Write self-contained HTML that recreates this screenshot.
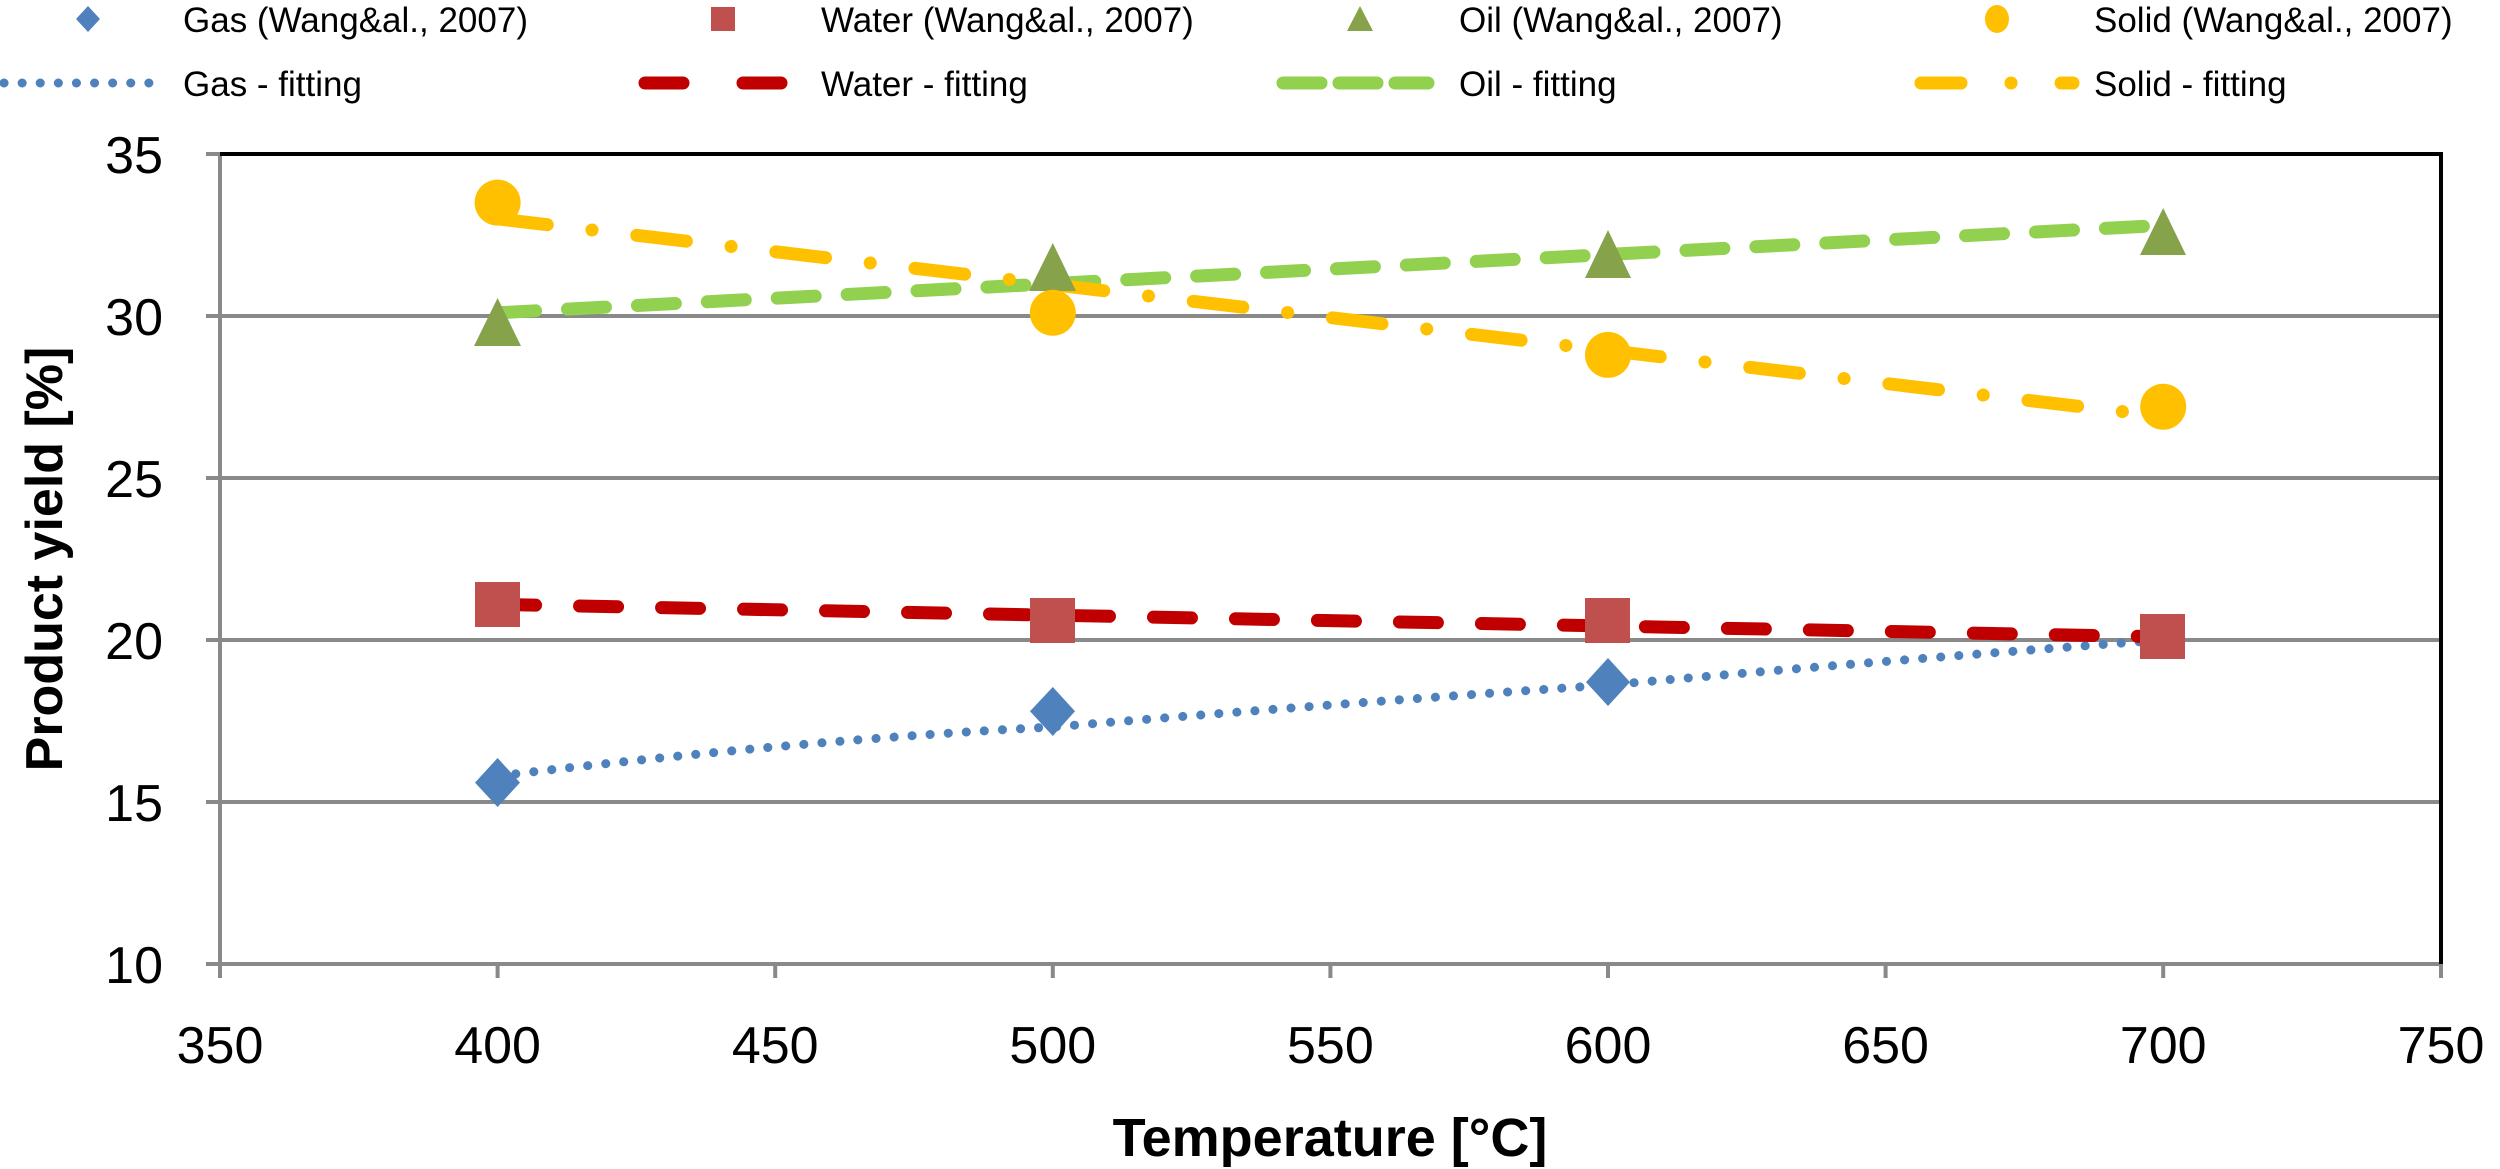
<!DOCTYPE html>
<html><head><meta charset="utf-8"><style>
html,body{margin:0;padding:0;background:#fff;}
svg{display:block;font-family:"Liberation Sans",sans-serif;}
</style></head><body>
<svg width="2500" height="1169" viewBox="0 0 2500 1169" xmlns="http://www.w3.org/2000/svg">
<g stroke="#898989" stroke-width="4">
<line x1="206" y1="316" x2="2441" y2="316"/>
<line x1="206" y1="478" x2="2441" y2="478"/>
<line x1="206" y1="640" x2="2441" y2="640"/>
<line x1="206" y1="802" x2="2441" y2="802"/>
<line x1="206" y1="964" x2="2441" y2="964"/>
<line x1="206" y1="154" x2="220" y2="154"/>
<line x1="220" y1="154" x2="220" y2="978"/>
<line x1="497.6" y1="964" x2="497.6" y2="978"/>
<line x1="775.2" y1="964" x2="775.2" y2="978"/>
<line x1="1052.8" y1="964" x2="1052.8" y2="978"/>
<line x1="1330.4" y1="964" x2="1330.4" y2="978"/>
<line x1="1608" y1="964" x2="1608" y2="978"/>
<line x1="1885.6" y1="964" x2="1885.6" y2="978"/>
<line x1="2163.2" y1="964" x2="2163.2" y2="978"/>
<line x1="2441" y1="964" x2="2441" y2="978"/>
</g>
<polyline points="220,154 2441,154 2441,964" fill="none" stroke="#000" stroke-width="4"/>
<g font-size="52" fill="#000" text-anchor="end">
<text x="163" y="173">35</text><text x="163" y="335">30</text><text x="163" y="497">25</text>
<text x="163" y="659">20</text><text x="163" y="821">15</text><text x="163" y="983">10</text>
</g>
<g font-size="52" fill="#000" text-anchor="middle">
<text x="220" y="1063">350</text><text x="497.6" y="1063">400</text><text x="775.2" y="1063">450</text>
<text x="1052.8" y="1063">500</text><text x="1330.4" y="1063">550</text><text x="1608" y="1063">600</text>
<text x="1885.6" y="1063">650</text><text x="2163.2" y="1063">700</text><text x="2441" y="1063">750</text>
</g>
<text x="1330" y="1156" font-size="54" font-weight="bold" text-anchor="middle">Temperature [°C]</text>
<text transform="translate(62,559) rotate(-90)" font-size="52" font-weight="bold" text-anchor="middle">Product yield [%]</text>
<path d="M497.6,776 Q800,740 1052.8,727 Q1330,704 1608,685 Q1890,660 2163.2,640" fill="none" stroke="#4F81BD" stroke-width="9" stroke-linecap="round" stroke-dasharray="0.1 18"/>
<line x1="497.6" y1="604.4" x2="2163.2" y2="636.8" stroke="#C00000" stroke-width="13" stroke-linecap="round" stroke-dasharray="38 44"/>
<line x1="497.6" y1="312.8" x2="2163.2" y2="225.3" stroke="#92D050" stroke-width="13" stroke-linecap="round" stroke-dasharray="38 32"/>
<line x1="497.6" y1="218.8" x2="2163.2" y2="416.4" stroke="#FFC000" stroke-width="13" stroke-linecap="round" stroke-dasharray="50 45 0.1 45"/>
<g fill="#4F81BD">
<polygon points="497.6,758 520,782.6 497.6,807 475,782.6"/>
<polygon points="1052.8,687 1075,711.3 1052.8,736 1030,711.3"/>
<polygon points="1608,658 1630,682.1 1608,706 1586,682.1"/>
</g>
<g fill="#C0504D">
<rect x="475" y="582" width="45" height="45"/>
<rect x="1030" y="598" width="45" height="45"/>
<rect x="1585" y="598" width="45" height="45"/>
<rect x="2140" y="614" width="45" height="45"/>
</g>
<g fill="#86A34C">
<polygon points="497.6,298 521,346 474,346"/>
<polygon points="1052.8,243 1076,291 1029,291"/>
<polygon points="1608,230 1631,278 1585,278"/>
<polygon points="2163.2,208 2186,255 2140,255"/>
</g>
<g fill="#FFC000">
<circle cx="497.6" cy="202.6" r="23"/>
<circle cx="1052.8" cy="312.8" r="23"/>
<circle cx="1608" cy="354.9" r="23"/>
<circle cx="2163.2" cy="406.7" r="23"/>
</g>
<g font-size="35" fill="#000">
<text x="183" y="32">Gas (Wang&amp;al., 2007)</text>
<text x="821" y="32">Water (Wang&amp;al., 2007)</text>
<text x="1459" y="32">Oil (Wang&amp;al., 2007)</text>
<text x="2094" y="32">Solid (Wang&amp;al., 2007)</text>
<text x="183" y="96">Gas - fitting</text>
<text x="821" y="96">Water - fitting</text>
<text x="1459" y="96">Oil - fitting</text>
<text x="2094" y="96">Solid - fitting</text>
</g>
<polygon points="88,6 100,19 88,32 76,19" fill="#4F81BD"/>
<rect x="711" y="7" width="24" height="24" fill="#C0504D"/>
<polygon points="1360,6 1373,31 1347,31" fill="#86A34C"/>
<ellipse cx="1997" cy="19" rx="12" ry="14" fill="#FFC000"/>
<line x1="4" y1="83" x2="154" y2="83" stroke="#4F81BD" stroke-width="9" stroke-linecap="round" stroke-dasharray="0.1 18"/>
<line x1="645" y1="83" x2="790" y2="83" stroke="#C00000" stroke-width="13" stroke-linecap="round" stroke-dasharray="38 60"/>
<line x1="1283" y1="83" x2="1428" y2="83" stroke="#92D050" stroke-width="13" stroke-linecap="round" stroke-dasharray="38 18"/>
<line x1="1921" y1="83" x2="2073" y2="83" stroke="#FFC000" stroke-width="13" stroke-linecap="round" stroke-dasharray="40 50 0.1 50"/>
</svg>
</body></html>
